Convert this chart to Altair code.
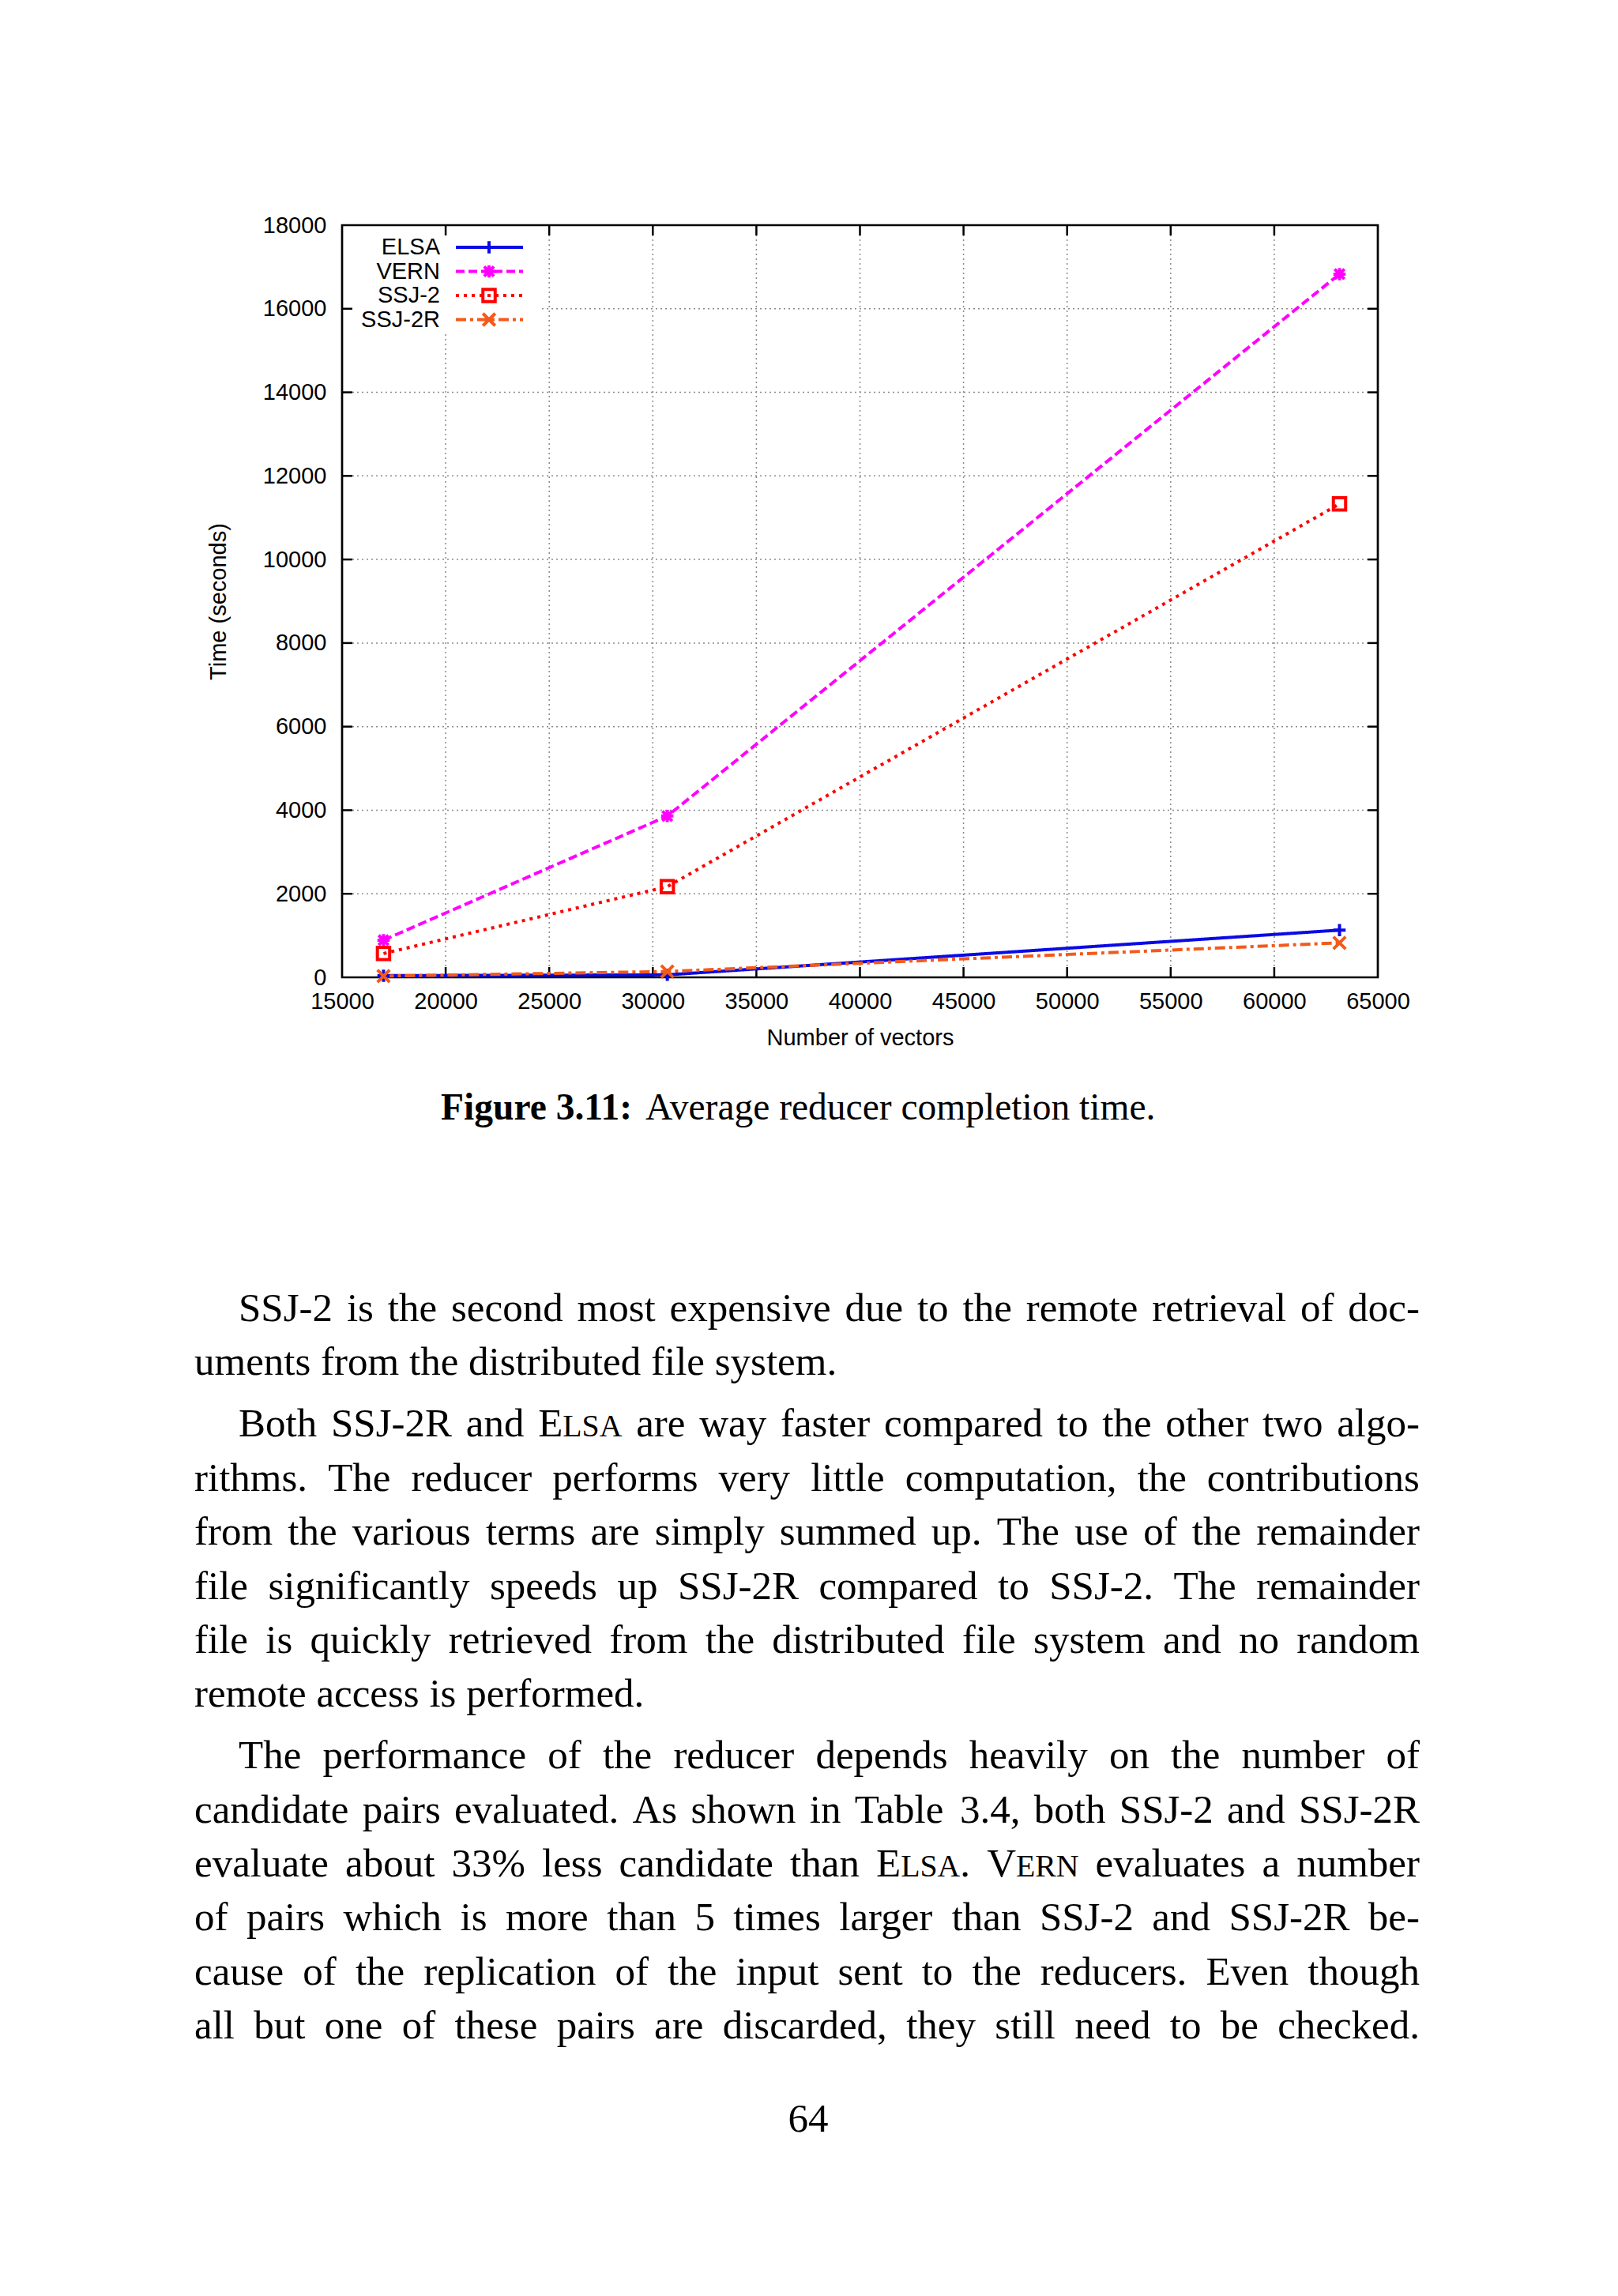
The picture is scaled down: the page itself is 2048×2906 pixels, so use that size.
import altair as alt
import pandas as pd

# ---------------- data ----------------
series_names = ["ELSA", "VERN", "SSJ-2", "SSJ-2R"]
x_vectors = [17000, 30700, 63150]
elsa_time = [40, 60, 1130]
vern_time = [890, 3860, 16830]
ssj2_time = [570, 2170, 11330]
ssj2r_time = [30, 140, 825]

x_ticks = [15000, 20000, 25000, 30000, 35000, 40000, 45000, 50000, 55000, 60000, 65000]
y_ticks = [0, 2000, 4000, 6000, 8000, 10000, 12000, 14000, 16000, 18000]

caption_bold = "Figure 3.11:"
caption_text = "Average reducer completion time."
paragraphs = [
    ["SSJ-2 is the second most expensive due to the remote retrieval of doc-",
     "uments from the distributed file system."],
    ["Both SSJ-2R and ELSA are way faster compared to the other two algo-",
     "rithms. The reducer performs very little computation, the contributions",
     "from the various terms are simply summed up. The use of the remainder",
     "file significantly speeds up SSJ-2R compared to SSJ-2. The remainder",
     "file is quickly retrieved from the distributed file system and no random",
     "remote access is performed."],
    ["The performance of the reducer depends heavily on the number of",
     "candidate pairs evaluated. As shown in Table 3.4, both SSJ-2 and SSJ-2R",
     "evaluate about 33% less candidate than ELSA. VERN evaluates a number",
     "of pairs which is more than 5 times larger than SSJ-2 and SSJ-2R be-",
     "cause of the replication of the input sent to the reducers. Even though",
     "all but one of these pairs are discarded, they still need to be checked."],
]
paragraph_continues = [False, False, True]   # last paragraph runs onto the next page
small_caps_words = ["ELSA", "VERN"]
page_number = "64"

# ---------------- styles ----------------
colors = ["#0a0ae6", "#ff00ff", "#ff0000", "#f25a1c"]
dashes = [[1, 0], [11, 5], [4, 6], [13, 5, 4, 5]]
shapes = [
    "M-1,0L1,0M0,-1L0,1",
    "M-1,0L1,0M0,-1L0,1M-0.8,-0.8L0.8,0.8M-0.8,0.8L0.8,-0.8",
    "M-1,-1L1,-1L1,1L-1,1Z",
    "M-1,-1L1,1M-1,1L1,-1",
]

W, H = 1311, 952
OX, OY = 433, 285           # page position of the plot origin
SANS = "Liberation Sans"
SERIF = "Liberation Serif"
FS = 29
BODY_FS = 51
CAP_FS = 47.5
SC = 0.78                   # small-caps scale

rows = []
for name, vals in zip(series_names, [elsa_time, vern_time, ssj2_time, ssj2r_time]):
    for xv, yv in zip(x_vectors, vals):
        rows.append({"series": name, "vectors": xv, "time": yv})
df = pd.DataFrame(rows)

xscale = alt.Scale(domain=[15000, 65000], nice=False, zero=False)
yscale = alt.Scale(domain=[0, 18000], nice=False, zero=False)

x_axis = alt.Axis(values=x_ticks, format="d", ticks=False, tickSize=0, domain=False, grid=False,
                  labelFont=SANS, labelFontSize=FS, labelColor="black", labelPadding=16,
                  labelFlush=False, labelOverlap=False,
                  titleFont=SANS, titleFontSize=FS, titleFontWeight="normal", titleColor="black",
                  titleX=W / 2, titleY=76, titleBaseline="middle", titleAlign="center")
y_axis = alt.Axis(values=y_ticks, format="d", ticks=False, tickSize=0, domain=False, grid=False,
                  labelFont=SANS, labelFontSize=FS, labelColor="black", labelPadding=20,
                  labelOverlap=False,
                  titleFont=SANS, titleFontSize=FS, titleFontWeight="normal", titleColor="black",
                  titleX=-157, titleY=H / 2, titleAngle=270, titleBaseline="middle", titleAlign="center")


def xenc():
    return alt.X("vectors:Q", scale=xscale, axis=x_axis, title="Number of vectors")


def yenc():
    return alt.Y("time:Q", scale=yscale, axis=y_axis, title="Time (seconds)")


one = alt.Data(values=[{}])
layers = []

# grid
xg = pd.DataFrame({"vectors": x_ticks[1:-1]})
yg = pd.DataFrame({"time": y_ticks[1:-1]})
grid_style = dict(color="#8a8a8a", strokeWidth=1.5, strokeDash=[2, 4])
layers.append(alt.Chart(xg).mark_rule(**grid_style).encode(x=xenc()))
layers.append(alt.Chart(yg).mark_rule(**grid_style).encode(y=yenc()))

# legend background
layers.append(alt.Chart(one).mark_rect(color="white").encode(
    x=alt.value(3), x2=alt.value(249), y=alt.value(3), y2=alt.value(137)))

# inward ticks on all four sides
tick_style = dict(color="black", strokeWidth=2.5)
TL = 13
layers.append(alt.Chart(xg).mark_rule(**tick_style).encode(x=xenc(), y=alt.value(H), y2=alt.value(H - TL)))
layers.append(alt.Chart(xg).mark_rule(**tick_style).encode(x=xenc(), y=alt.value(0), y2=alt.value(TL)))
layers.append(alt.Chart(yg).mark_rule(**tick_style).encode(y=yenc(), x=alt.value(0), x2=alt.value(TL)))
layers.append(alt.Chart(yg).mark_rule(**tick_style).encode(y=yenc(), x=alt.value(W), x2=alt.value(W - TL)))

# series
cscale = alt.Scale(domain=series_names, range=colors)
layers.append(alt.Chart(df).mark_line(strokeWidth=4).encode(
    x=xenc(), y=yenc(),
    color=alt.Color("series:N", scale=cscale, legend=None),
    strokeDash=alt.StrokeDash("series:N", scale=alt.Scale(domain=series_names, range=dashes), legend=None),
))
layers.append(alt.Chart(df).mark_point(filled=False, strokeWidth=4, size=240, opacity=1).encode(
    x=xenc(), y=yenc(),
    color=alt.Color("series:N", scale=cscale, legend=None),
    shape=alt.Shape("series:N", scale=alt.Scale(domain=series_names, range=shapes), legend=None),
))

# legend (gnuplot style: label on the left, sample on the right)
for i, name in enumerate(series_names):
    yy = 28 + i * 30.5
    layers.append(alt.Chart(one).mark_text(align="right", baseline="middle", font=SANS,
                                           fontSize=FS, color="black").encode(
        x=alt.value(124), y=alt.value(yy), text=alt.value(name)))
    layers.append(alt.Chart(one).mark_rule(color=colors[i], strokeWidth=4, strokeDash=dashes[i]).encode(
        x=alt.value(144), x2=alt.value(229), y=alt.value(yy)))
    layers.append(alt.Chart(one).mark_point(shape=shapes[i], filled=False, strokeWidth=4, size=240,
                                            color=colors[i], opacity=1).encode(
        x=alt.value(186), y=alt.value(yy)))

# caption
layers.append(alt.Chart(one).mark_text(align="right", baseline="alphabetic", font=SERIF, fontSize=CAP_FS,
                                       fontWeight="bold", color="black").encode(
    x=alt.value(800 - OX), y=alt.value(1417 - OY), text=alt.value(caption_bold)))
layers.append(alt.Chart(one).mark_text(align="left", baseline="alphabetic", font=SERIF, fontSize=CAP_FS,
                                       color="black").encode(
    x=alt.value(817 - OX), y=alt.value(1417 - OY), text=alt.value(caption_text)))
layers.append(alt.Chart(one).mark_text(align="center", baseline="alphabetic", font=SERIF,
                                       fontSize=BODY_FS, color="black").encode(
    x=alt.value(1023 - OX), y=alt.value(2698 - OY), text=alt.value(page_number)))

plot = alt.layer(*layers)

# ---------------- justified body text (Times metrics, Liberation Serif is metric-compatible) ----------------
TW = {" ": 250, "!": 333, "%": 833, "'": 333, "(": 333, ")": 333, ",": 250, "-": 333, ".": 250,
      ":": 278, ";": 278, "?": 444}
for c in "0123456789":
    TW[c] = 500
TW.update(dict(zip("ABCDEFGHIJKLMNOPQRSTUVWXYZ",
                   [722, 667, 667, 722, 611, 556, 722, 722, 333, 389, 722, 611, 889, 722, 722, 556,
                    722, 667, 556, 611, 722, 722, 944, 722, 722, 611])))
TW.update(dict(zip("abcdefghijklmnopqrstuvwxyz",
                   [444, 500, 444, 500, 444, 333, 500, 500, 278, 278, 500, 278, 778, 500, 500, 500,
                    500, 333, 389, 278, 500, 500, 722, 500, 500, 444])))


def tw(s, fs):
    return sum(TW.get(c, 500) for c in s) / 1000.0 * fs


def pieces(word):
    for sc in small_caps_words:
        if word.startswith(sc):
            rest = word[len(sc):]
            out = [(sc[0], BODY_FS), (sc[1:], BODY_FS * SC)]
            if rest:
                out.append((rest, BODY_FS))
            return out
    return [(word, BODY_FS)]


LEFT, RIGHT, INDENT = 246, 1797, 302
LEAD, PGAP = 68.4, 9.5
word_rows = []
yb = 1672.0
for lines, cont in zip(paragraphs, paragraph_continues):
    for j, line in enumerate(lines):
        x0 = INDENT if j == 0 else LEFT
        words = line.split(" ")
        pw = [pieces(w) for w in words]
        widths = [sum(tw(t, f) for t, f in p) for p in pw]
        ragged = (j == len(lines) - 1) and not cont
        gap = tw(" ", BODY_FS) if ragged or len(words) < 2 else (RIGHT - x0 - sum(widths)) / (len(words) - 1)
        x = x0
        for p, wd in zip(pw, widths):
            xx = x
            for t, f in p:
                word_rows.append({"word": t, "px": xx - OX, "py": yb - OY, "fs": f})
                xx += tw(t, f)
            x += wd + gap
        yb += LEAD
    yb += PGAP
words_df = pd.DataFrame(word_rows)

body = alt.Chart(words_df).mark_text(align="left", baseline="alphabetic", font=SERIF, color="black").encode(
    x=alt.X("px:Q", scale=None, axis=None),
    y=alt.Y("py:Q", scale=None, axis=None),
    text="word:N",
    size=alt.Size("fs:Q", scale=None, legend=None),
)

chart = alt.layer(plot, body).resolve_scale(x="independent", y="independent").properties(
    width=W, height=H,
    autosize=alt.AutoSizeParams(type="none"),
    padding={"left": OX - 8, "top": OY - 8, "right": 290, "bottom": 1650},
    background="white",
).configure_view(stroke="black", strokeWidth=2.7)

chart.save("out.html", embed_options={"renderer": "svg", "actions": False})
